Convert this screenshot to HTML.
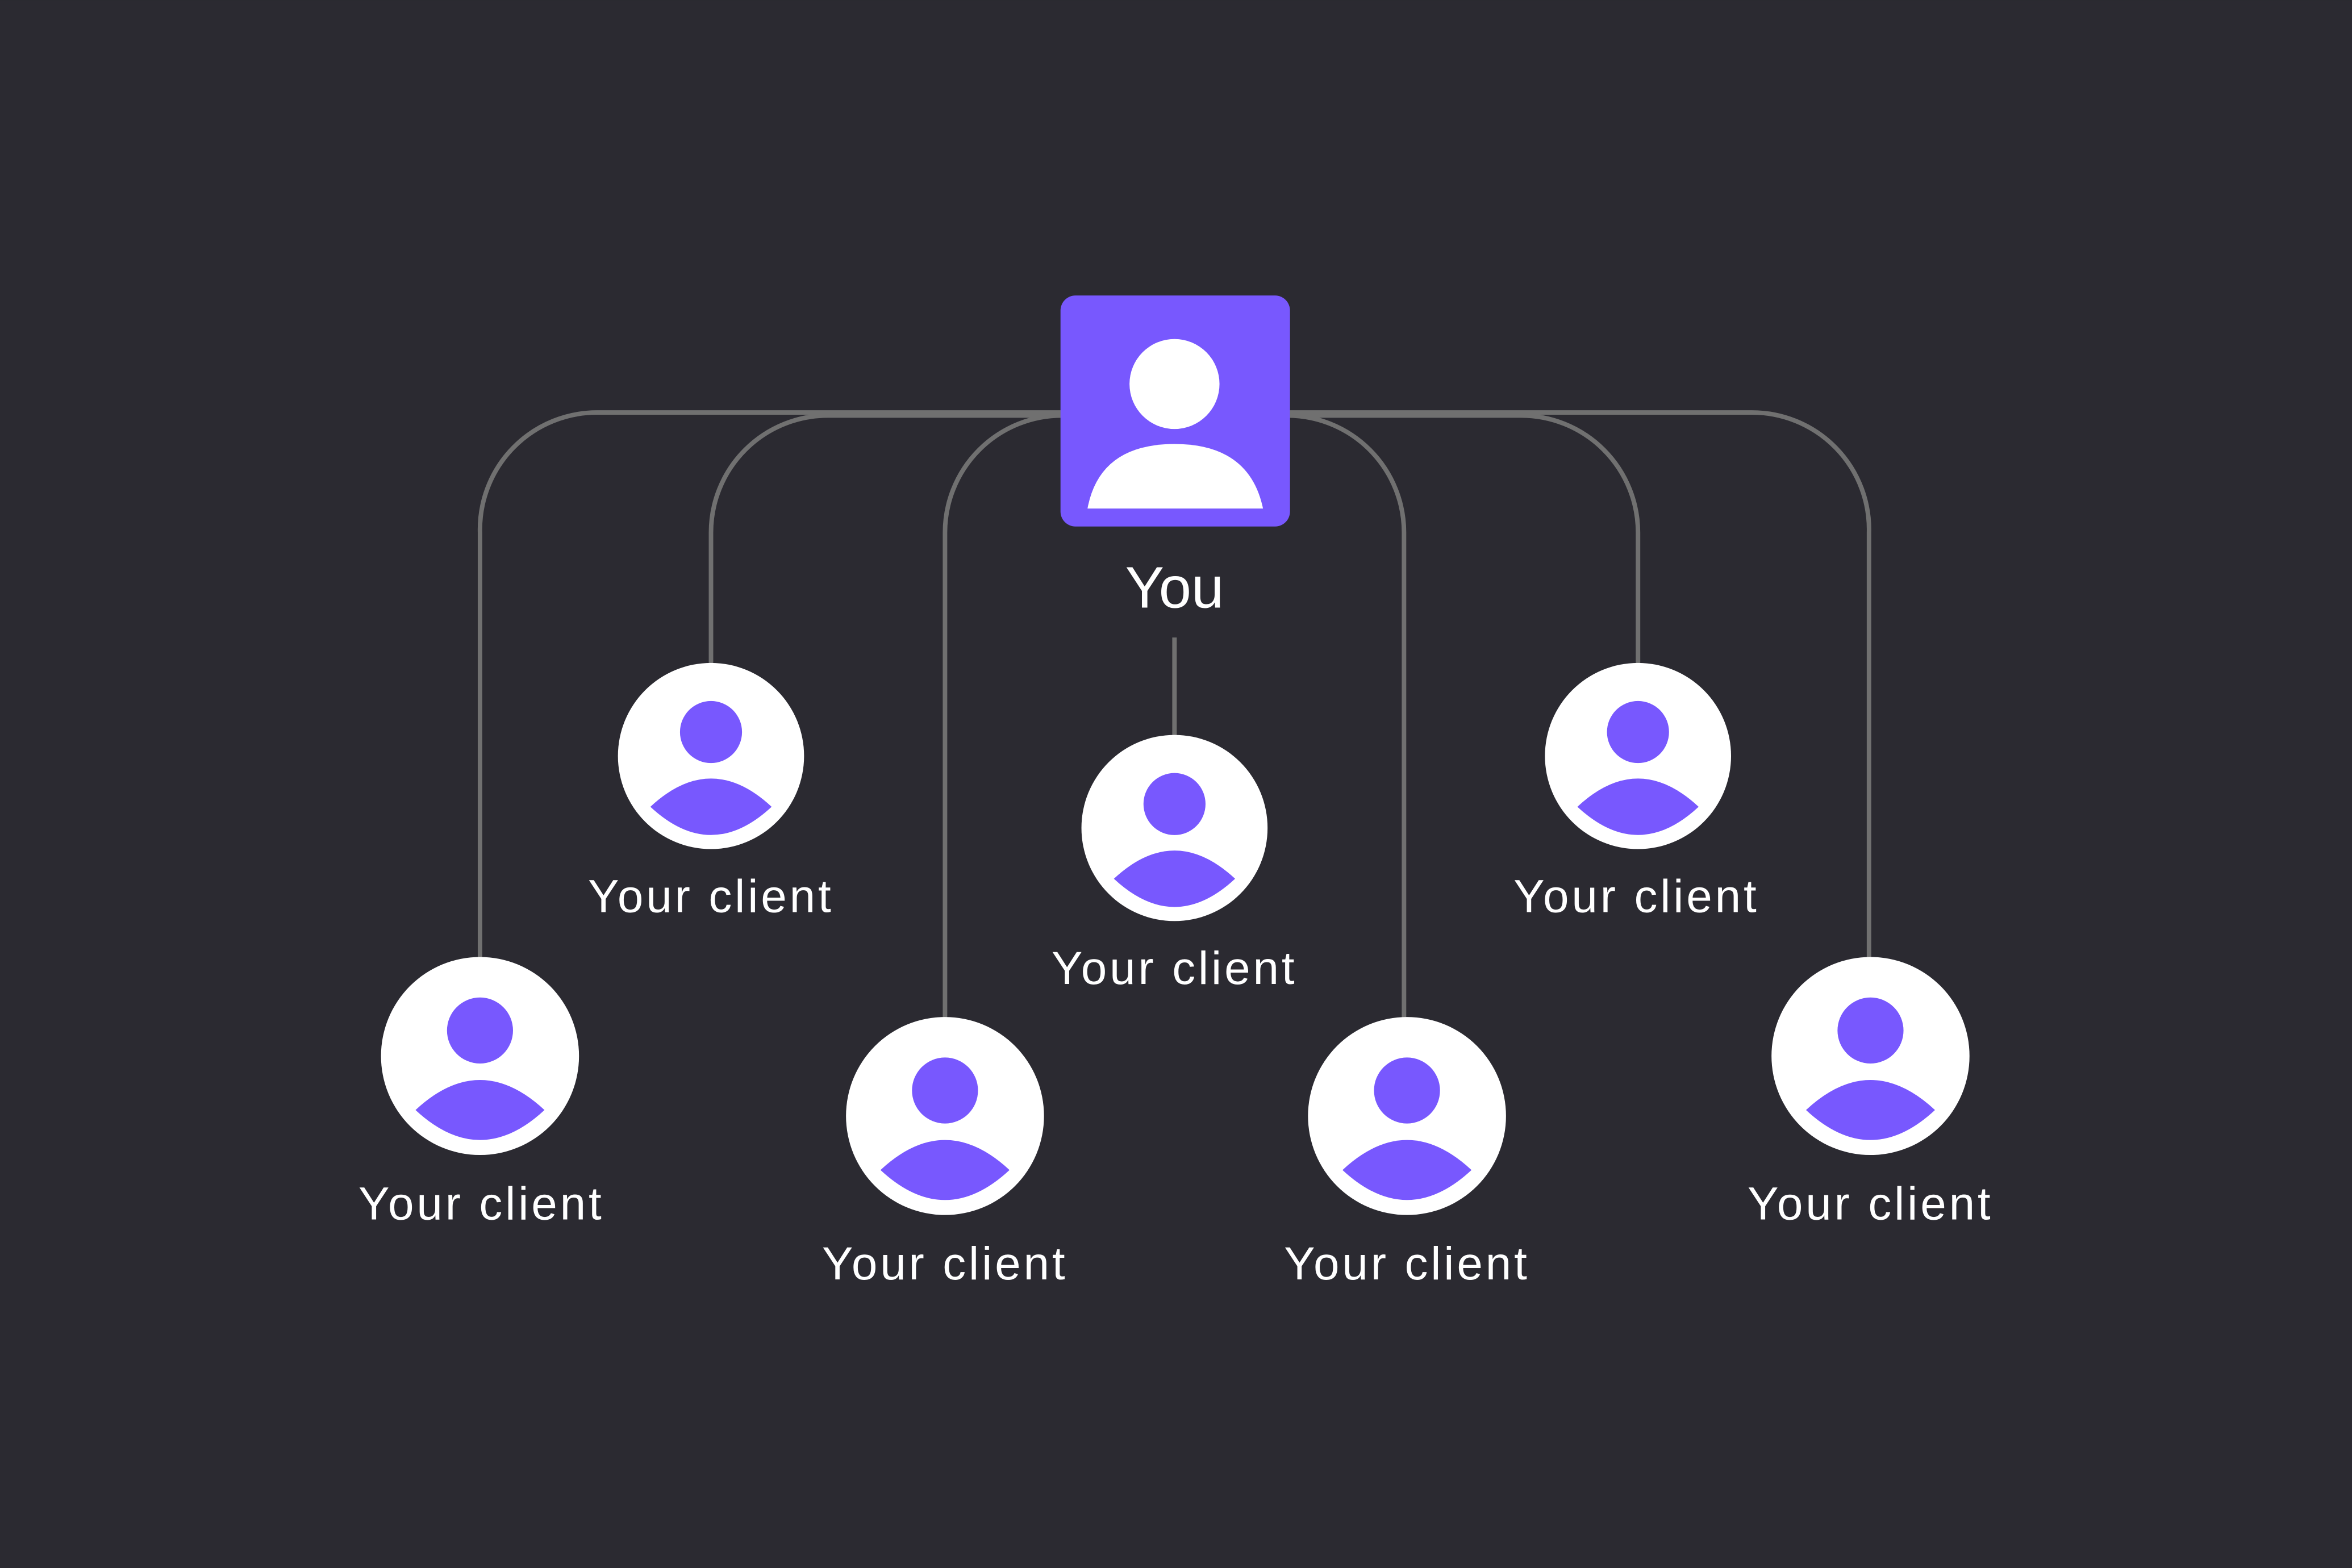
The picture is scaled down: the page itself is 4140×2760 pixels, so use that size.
<!DOCTYPE html>
<html><head><style>
html,body{margin:0;padding:0;background:#2b2a31;}
svg{display:block;}
text{font-family:"Liberation Sans",sans-serif;fill:#fff;text-anchor:middle;}
</style></head><body>
<svg width="4140" height="2760" viewBox="0 0 1568 1045.33" xmlns="http://www.w3.org/2000/svg">
<rect width="1568" height="1046" fill="#2b2a31"/>
<g fill="none" stroke="#707070" stroke-width="3">
<path d="M320 640 V355 A78 78 0 0 1 398 275 H720"/>
<path d="M474 444 V355 A78 78 0 0 1 552 277 H720"/>
<path d="M630 680 V355 A78 78 0 0 1 708 277"/>
<path d="M936 680 V355 A78 78 0 0 0 858 277"/>
<path d="M1092 444 V355 A78 78 0 0 0 1014 277 H850"/>
<path d="M1246 640 V355 A78 78 0 0 0 1168 275 H850"/>
<path d="M783 425 V492"/>
</g>
<rect x="707" y="197" width="153" height="154" rx="10" fill="#7858fe"/>
<circle cx="783" cy="256" r="30" fill="#fff"/>
<path d="M725 339 Q733 296 783 296 Q833 296 842 339 Z" fill="#fff"/>
<text x="783" y="405" font-size="39">You</text>
<g>
<g transform="translate(474,504) scale(0.94)">
<circle r="66" fill="#fff"/><circle cy="-17" r="22" fill="#7858fe"/>
<path d="M-43 36 Q0 -4 43 36 Q0 76 -43 36 Z" fill="#7858fe"/></g>
<g transform="translate(320,704)">
<circle r="66" fill="#fff"/><circle cy="-17" r="22" fill="#7858fe"/>
<path d="M-43 36 Q0 -4 43 36 Q0 76 -43 36 Z" fill="#7858fe"/></g>
<g transform="translate(630,744)">
<circle r="66" fill="#fff"/><circle cy="-17" r="22" fill="#7858fe"/>
<path d="M-43 36 Q0 -4 43 36 Q0 76 -43 36 Z" fill="#7858fe"/></g>
<g transform="translate(783,552) scale(0.94)">
<circle r="66" fill="#fff"/><circle cy="-17" r="22" fill="#7858fe"/>
<path d="M-43 36 Q0 -4 43 36 Q0 76 -43 36 Z" fill="#7858fe"/></g>
<g transform="translate(938,744)">
<circle r="66" fill="#fff"/><circle cy="-17" r="22" fill="#7858fe"/>
<path d="M-43 36 Q0 -4 43 36 Q0 76 -43 36 Z" fill="#7858fe"/></g>
<g transform="translate(1092,504) scale(0.94)">
<circle r="66" fill="#fff"/><circle cy="-17" r="22" fill="#7858fe"/>
<path d="M-43 36 Q0 -4 43 36 Q0 76 -43 36 Z" fill="#7858fe"/></g>
<g transform="translate(1247,704)">
<circle r="66" fill="#fff"/><circle cy="-17" r="22" fill="#7858fe"/>
<path d="M-43 36 Q0 -4 43 36 Q0 76 -43 36 Z" fill="#7858fe"/></g>
</g>
<g font-size="31">
<text x="473" y="608" textLength="162">Your client</text>
<text x="320" y="813" textLength="162">Your client</text>
<text x="629" y="853" textLength="162">Your client</text>
<text x="782" y="656" textLength="162">Your client</text>
<text x="1090" y="608" textLength="162">Your client</text>
<text x="937" y="853" textLength="162">Your client</text>
<text x="1246" y="813" textLength="162">Your client</text>
</g>
</svg>
</body></html>
